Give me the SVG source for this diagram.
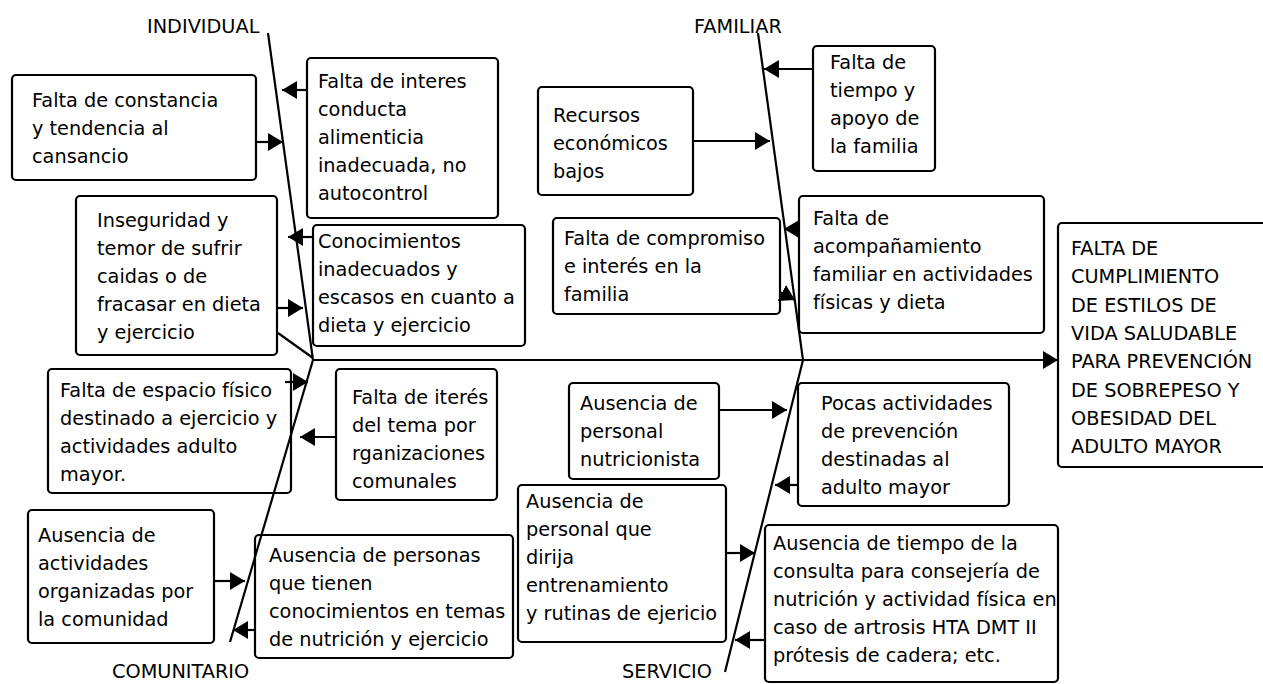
<svg xmlns="http://www.w3.org/2000/svg" width="1263" height="684" viewBox="0 0 1263 684">
<defs>
<style>
.box{fill:#fff;stroke:#000;stroke-width:2.2}
.t{font-family:"DejaVu Sans","Liberation Sans",sans-serif;font-size:19.3px;fill:#000}
.ln{stroke:#000;stroke-width:2.2;fill:none}
.ar{stroke:#000;stroke-width:2.2;fill:none;marker-end:url(#ah)}
</style>
<marker id="ah" markerUnits="userSpaceOnUse" markerWidth="16" markerHeight="20" refX="15" refY="9" orient="auto">
<path d="M0,0 L15,9 L0,18 Z" fill="#000"/>
</marker>
</defs>
<rect width="1263" height="684" fill="#fff"/>

<g id="label-individual"><text class="t" x="147" y="33">INDIVIDUAL</text></g>
<g id="label-familiar"><text class="t" x="694" y="33">FAMILIAR</text></g>
<g id="label-comunitario"><text class="t" x="112" y="678">COMUNITARIO</text></g>
<g id="label-servicio"><text class="t" x="622" y="678">SERVICIO</text></g>

<g id="n1">
<rect class="box" x="12" y="75" width="244" height="105" rx="4"/>
<text class="t"><tspan x="32" y="107">Falta de constancia</tspan><tspan x="32" y="135">y tendencia al</tspan><tspan x="32" y="163">cansancio</tspan></text>
</g>
<g id="n2">
<rect class="box" x="307" y="58" width="191" height="160" rx="4"/>
<text class="t"><tspan x="318" y="88">Falta de interes</tspan><tspan x="318" y="116">conducta</tspan><tspan x="318" y="144">alimenticia</tspan><tspan x="318" y="172">inadecuada, no</tspan><tspan x="318" y="200">autocontrol</tspan></text>
</g>
<g id="n3">
<rect class="box" x="76" y="196" width="201" height="159" rx="4"/>
<text class="t"><tspan x="97" y="227">Inseguridad y</tspan><tspan x="97" y="255">temor de sufrir</tspan><tspan x="97" y="283">caidas o de</tspan><tspan x="97" y="311">fracasar en dieta</tspan><tspan x="97" y="339">y ejercicio</tspan></text>
</g>
<g id="n4">
<rect class="box" x="313" y="225" width="212" height="121" rx="4"/>
<text class="t"><tspan x="318" y="248">Conocimientos</tspan><tspan x="318" y="276">inadecuados y</tspan><tspan x="318" y="304">escasos en cuanto a</tspan><tspan x="318" y="332">dieta y ejercicio</tspan></text>
</g>
<g id="n5">
<rect class="box" x="48" y="369" width="243" height="124" rx="4"/>
<text class="t"><tspan x="60" y="397">Falta de espacio físico</tspan><tspan x="60" y="425">destinado a ejercicio y</tspan><tspan x="60" y="453">actividades adulto</tspan><tspan x="60" y="481">mayor.</tspan></text>
</g>
<g id="n6">
<rect class="box" x="336" y="369" width="161" height="131" rx="4"/>
<text class="t"><tspan x="352" y="404">Falta de iterés</tspan><tspan x="352" y="432">del tema por</tspan><tspan x="352" y="460">rganizaciones</tspan><tspan x="352" y="488">comunales</tspan></text>
</g>
<g id="n7">
<rect class="box" x="28" y="510" width="186" height="133" rx="4"/>
<text class="t"><tspan x="38" y="542">Ausencia de</tspan><tspan x="38" y="570">actividades</tspan><tspan x="38" y="598">organizadas por</tspan><tspan x="38" y="626">la comunidad</tspan></text>
</g>
<g id="n8">
<rect class="box" x="255" y="535" width="258" height="123" rx="4"/>
<text class="t"><tspan x="269" y="562">Ausencia de personas</tspan><tspan x="269" y="590">que tienen</tspan><tspan x="269" y="618">conocimientos en temas</tspan><tspan x="269" y="646">de nutrición y ejercicio</tspan></text>
</g>
<g id="n9">
<rect class="box" x="538" y="87" width="155" height="108" rx="4"/>
<text class="t"><tspan x="553" y="122">Recursos</tspan><tspan x="553" y="150">económicos</tspan><tspan x="553" y="178">bajos</tspan></text>
</g>
<g id="n10">
<rect class="box" x="813" y="46" width="122" height="125" rx="4"/>
<text class="t"><tspan x="830" y="69">Falta de</tspan><tspan x="830" y="97">tiempo y</tspan><tspan x="830" y="125">apoyo de</tspan><tspan x="830" y="153">la familia</tspan></text>
</g>
<g id="n11">
<rect class="box" x="553" y="218" width="227" height="96" rx="4"/>
<text class="t"><tspan x="564" y="245">Falta de compromiso</tspan><tspan x="564" y="273">e interés en la</tspan><tspan x="564" y="301">familia</tspan></text>
</g>
<g id="n12">
<rect class="box" x="799" y="196" width="245" height="137" rx="4"/>
<text class="t"><tspan x="813" y="225">Falta de</tspan><tspan x="813" y="253">acompañamiento</tspan><tspan x="813" y="281">familiar en actividades</tspan><tspan x="813" y="309">físicas y dieta</tspan></text>
</g>
<g id="n13">
<rect class="box" x="1058" y="223" width="210" height="244" rx="4"/>
<text class="t"><tspan x="1071" y="255">FALTA DE</tspan><tspan x="1071" y="283">CUMPLIMIENTO</tspan><tspan x="1071" y="312">DE ESTILOS DE</tspan><tspan x="1071" y="340">VIDA SALUDABLE</tspan><tspan x="1071" y="368">PARA PREVENCIÓN</tspan><tspan x="1071" y="397">DE SOBREPESO Y</tspan><tspan x="1071" y="425">OBESIDAD DEL</tspan><tspan x="1071" y="453">ADULTO MAYOR</tspan></text>
</g>
<g id="n14">
<rect class="box" x="569" y="383" width="150" height="96" rx="4"/>
<text class="t"><tspan x="580" y="410">Ausencia de</tspan><tspan x="580" y="438">personal</tspan><tspan x="580" y="466">nutricionista</tspan></text>
</g>
<g id="n15">
<rect class="box" x="798" y="383" width="211" height="123" rx="4"/>
<text class="t"><tspan x="821" y="410">Pocas actividades</tspan><tspan x="821" y="438">de prevención</tspan><tspan x="821" y="466">destinadas al</tspan><tspan x="821" y="494">adulto mayor</tspan></text>
</g>
<g id="n16">
<rect class="box" x="518" y="485" width="208" height="157" rx="4"/>
<text class="t"><tspan x="526" y="508">Ausencia de</tspan><tspan x="526" y="536">personal que</tspan><tspan x="526" y="564">dirija</tspan><tspan x="526" y="592">entrenamiento</tspan><tspan x="526" y="620">y rutinas de ejericio</tspan></text>
</g>
<g id="n17">
<rect class="box" x="765" y="525" width="293" height="157" rx="4"/>
<text class="t"><tspan x="773" y="550">Ausencia de tiempo de la</tspan><tspan x="773" y="578">consulta para consejería de</tspan><tspan x="773" y="606">nutrición y actividad física en</tspan><tspan x="773" y="634">caso de artrosis HTA DMT II</tspan><tspan x="773" y="662">prótesis de cadera; etc.</tspan></text>
</g>

<g id="connectors">
<line class="ln" x1="268" y1="33" x2="313" y2="360"/>
<line class="ln" x1="313" y1="360" x2="230" y2="642"/>
<line class="ln" x1="758" y1="33" x2="803" y2="360"/>
<line class="ln" x1="803" y1="360" x2="725" y2="672"/>
<line class="ln" x1="278" y1="333" x2="313" y2="358"/>
<line class="ar" x1="313" y1="360" x2="1058" y2="360"/>
<line class="ar" x1="256" y1="142" x2="283" y2="142"/>
<line class="ar" x1="307" y1="90" x2="282" y2="90"/>
<line class="ar" x1="277" y1="308" x2="303" y2="308"/>
<line class="ar" x1="313" y1="237" x2="288" y2="237"/>
<line class="ar" x1="285" y1="382" x2="308" y2="382"/>
<line class="ar" x1="336" y1="437" x2="300" y2="437"/>
<line class="ar" x1="214" y1="581" x2="245" y2="581"/>
<line class="ar" x1="255" y1="630" x2="233" y2="630"/>
<line class="ar" x1="693" y1="141" x2="770" y2="141"/>
<line class="ar" x1="813" y1="69" x2="764" y2="69"/>
<line class="ar" x1="799" y1="229" x2="784" y2="229"/>
<line class="ar" x1="780" y1="292" x2="795" y2="300"/>
<line class="ar" x1="719" y1="410" x2="787" y2="410"/>
<line class="ar" x1="798" y1="485" x2="775" y2="485"/>
<line class="ar" x1="726" y1="553" x2="755" y2="553"/>
<line class="ar" x1="765" y1="640" x2="735" y2="640"/>
</g>
</svg>
